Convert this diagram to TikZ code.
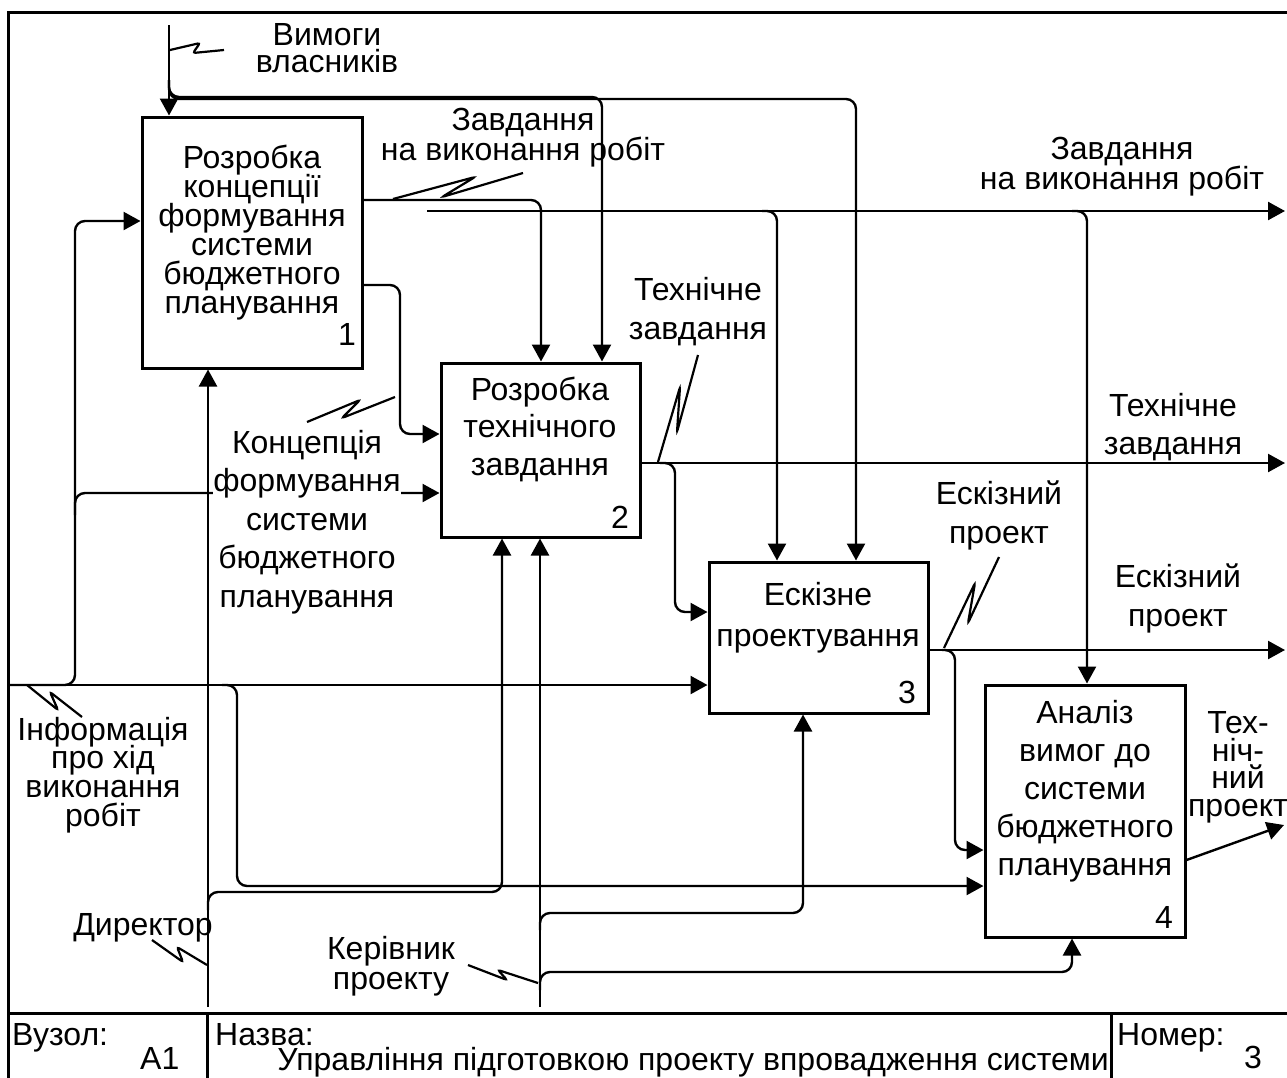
\documentclass[tikz,border=0pt]{standalone}
\usepackage{fontspec}
\setmainfont{Liberation Sans}
\usetikzlibrary{arrows.meta}
\newcommand\tightlines{\lineskiplimit -40pt\relax}
\tikzset{
  conn/.style={line width=2.4pt, rounded corners=10pt},
  flow/.style={conn, -{Triangle[length=17pt,width=18pt]}},
  zig/.style={line width=2.2pt, rounded corners=2.5pt},
  frameline/.style={line width=3pt},
  activity/.style={draw, line width=3pt, inner sep=0pt},
  lab/.style={align=center, inner sep=0pt,
    font=\fontsize{32}{#1}\selectfont\tightlines},
  lab/.default=30,
  num/.style={inner sep=0pt, font=\fontsize{32}{32}\selectfont},
  cell/.style={inner sep=0pt, font=\fontsize{32}{32}\selectfont},
}
\begin{document}
\begin{tikzpicture}[x=1pt,y=-1pt]
\useasboundingbox (0,0) rectangle (1287,1077);

% sheet frame and title block
\draw[frameline] (1295,12) -- (8,12) -- (8,1085);
\draw[frameline] (8,1013) -- (1295,1013);
\draw[frameline] (207,1013) -- (207,1085);
\draw[frameline] (1111,1013) -- (1111,1085);
\node[cell, anchor=base west] (nodeLbl) at (12,1045) {Вузол:};
\node[cell, anchor=base west] (nodeVal) at (140,1069) {A1};
\node[cell, anchor=base west] (titleLbl) at (215,1045) {Назва:};
\node[cell, anchor=base east] (titleVal) at (1109,1070) {Управління підготовкою проекту впровадження системи};
\node[cell, anchor=base west] (numLbl) at (1117,1045) {Номер:};
\node[cell, anchor=base west] (numVal) at (1244,1068) {3};

% activity boxes
\node[activity, minimum width=220pt, minimum height=251pt] (A1) at (252,242.5) {};
\node[activity, minimum width=199pt, minimum height=174pt] (A2) at (540.5,450) {};
\node[activity, minimum width=219pt, minimum height=151pt] (A3) at (818.5,637.5) {};
\node[activity, minimum width=200pt, minimum height=252pt] (A4) at (1085,811) {};

\node[lab=29] (A1t) at (252,232.5) {Розробка\\концепції\\формування\\системи\\бюджетного\\планування};
\node[lab=37.5] (A2t) at (540,429) {Розробка\\технічного\\завдання};
\node[lab=41] (A3t) at (818,618) {Ескізне\\проектування};
\node[lab=38] (A4t) at (1085,791.5) {Аналіз\\вимог до\\системи\\бюджетного\\планування};

\node[num] (A1n) at (347,334) {1};
\node[num] (A2n) at (620,517) {2};
\node[num] (A3n) at (907,692) {3};
\node[num] (A4n) at (1164,917) {4};

% boundary points of the diagram
\coordinate (ownSrc) at (169,25);
\coordinate (infoSrc) at (8,685);
\coordinate (dirSrc) at (208,1007);
\coordinate (mgrSrc) at (540,1007);
\coordinate (taskTap) at (427,211);
\coordinate (taskOut) at (1285,211);
\coordinate (tzOut) at (1285,463);
\coordinate (epOut) at (1285,650);
\coordinate (tpOut) at (1284,825);

% controls: owners' requirements
\draw[flow] (ownSrc) -- (169,0 |- A1.north);
\draw[flow] (169,80) -- (169,97) -- (602,97) -- (602,0 |- A2.north);
\draw[flow] (169,80) -- (169,99) -- (856,99) -- (856,0 |- A3.north);

% outputs of activity 1
\draw[flow] (A1.east |- 0,200) -- (541,200) -- (541,0 |- A2.north);
\draw[flow] (taskTap) -- (taskOut);
\draw[flow] (762,211) -- (777,211) -- (777,0 |- A3.north);
\draw[flow] (1072,211) -- (1087,211) -- (1087,0 |- A4.north);
\draw[flow] (A1.east |- 0,285) -- (400,285) -- (400,434) -- (A2.west |- 0,434);

% input: progress information
\draw[flow] (infoSrc) -- (A3.west |- 0,685);
\draw[flow] (infoSrc) -- (75,685) -- (75,221) -- (A1.west |- 0,221);
\draw[flow] (75,515) -- (75,493) -- (A2.west |- 0,493);
\draw[flow] (222,685) -- (237,685) -- (237,886) -- (A4.west |- 0,886);

% outputs of activities 2, 3, 4
\draw[flow] (A2.east |- 0,463) -- (tzOut);
\draw[flow] (660,463) -- (675,463) -- (675,612) -- (A3.west |- 0,612);
\draw[flow] (A3.east |- 0,650) -- (epOut);
\draw[flow] (942,650) -- (955,650) -- (955,850) -- (A4.west |- 0,850);
\draw[flow] (A4.east |- 0,860) -- (tpOut);

% mechanisms
\draw[flow] (dirSrc) -- (208,0 |- A1.south);
\draw[flow] (208,910) -- (208,892) -- (502,892) -- (502,0 |- A2.south);
\draw[flow] (mgrSrc) -- (540,0 |- A2.south);
\draw[flow] (540,930) -- (540,913) -- (803,913) -- (803,0 |- A3.south);
\draw[flow] (540,990) -- (540,972) -- (1072,972) -- (1072,0 |- A4.south);

% arrow labels
\node[lab=27] (ownL) at (327,48.5) {Вимоги\\власників};
\node[lab=30] (taskL) at (523,137.5) {Завдання\\на виконання робіт};
\node[lab=30] (taskR) at (1122,166.5) {Завдання\\на виконання робіт};
\node[lab=39] (tzL) at (698,312) {Технічне\\завдання};
\node[lab=38] (tzR) at (1173,427) {Технічне\\завдання};
\node[lab=39] (epL) at (999,515) {Ескізний\\проект};
\node[lab=39] (epR) at (1178,598) {Ескізний\\проект};
\node[lab=27.5] (tpR) at (1238,767.5) {Тех-\\ніч-\\ний\\проект};
\node[lab=28.7] (infoL) at (103,775) {Інформація\\про хід\\виконання\\робіт};
\node[lab=38.5, fill=white] (concL) at (307,522) {Концепція\\формування\\системи\\бюджетного\\планування};
\node[lab] (dirL) at (143,928) {Директор};
\node[lab=30] (mgrL) at (391,966) {Керівник\\проекту};

% label leaders
\draw[zig] (170,50) -- (200,43) -- (193,53) -- (224,50);
\draw[zig] (393,199) -- (475,177) -- (442,197) -- (523,173);
\draw[zig] (307,422) -- (360,400) -- (342,418) -- (395,397);
\draw[zig] (658,462) -- (680,387) -- (677,432) -- (698,355);
\draw[zig] (944,648) -- (975,583) -- (968,623) -- (999,557);
\draw[zig] (27,685) -- (58,710) -- (50,692) -- (82,717);
\draw[zig] (152,940) -- (183,962) -- (177,947) -- (207,965);
\draw[zig] (468,965) -- (507,980) -- (498,970) -- (538,983);
\end{tikzpicture}
\end{document}
